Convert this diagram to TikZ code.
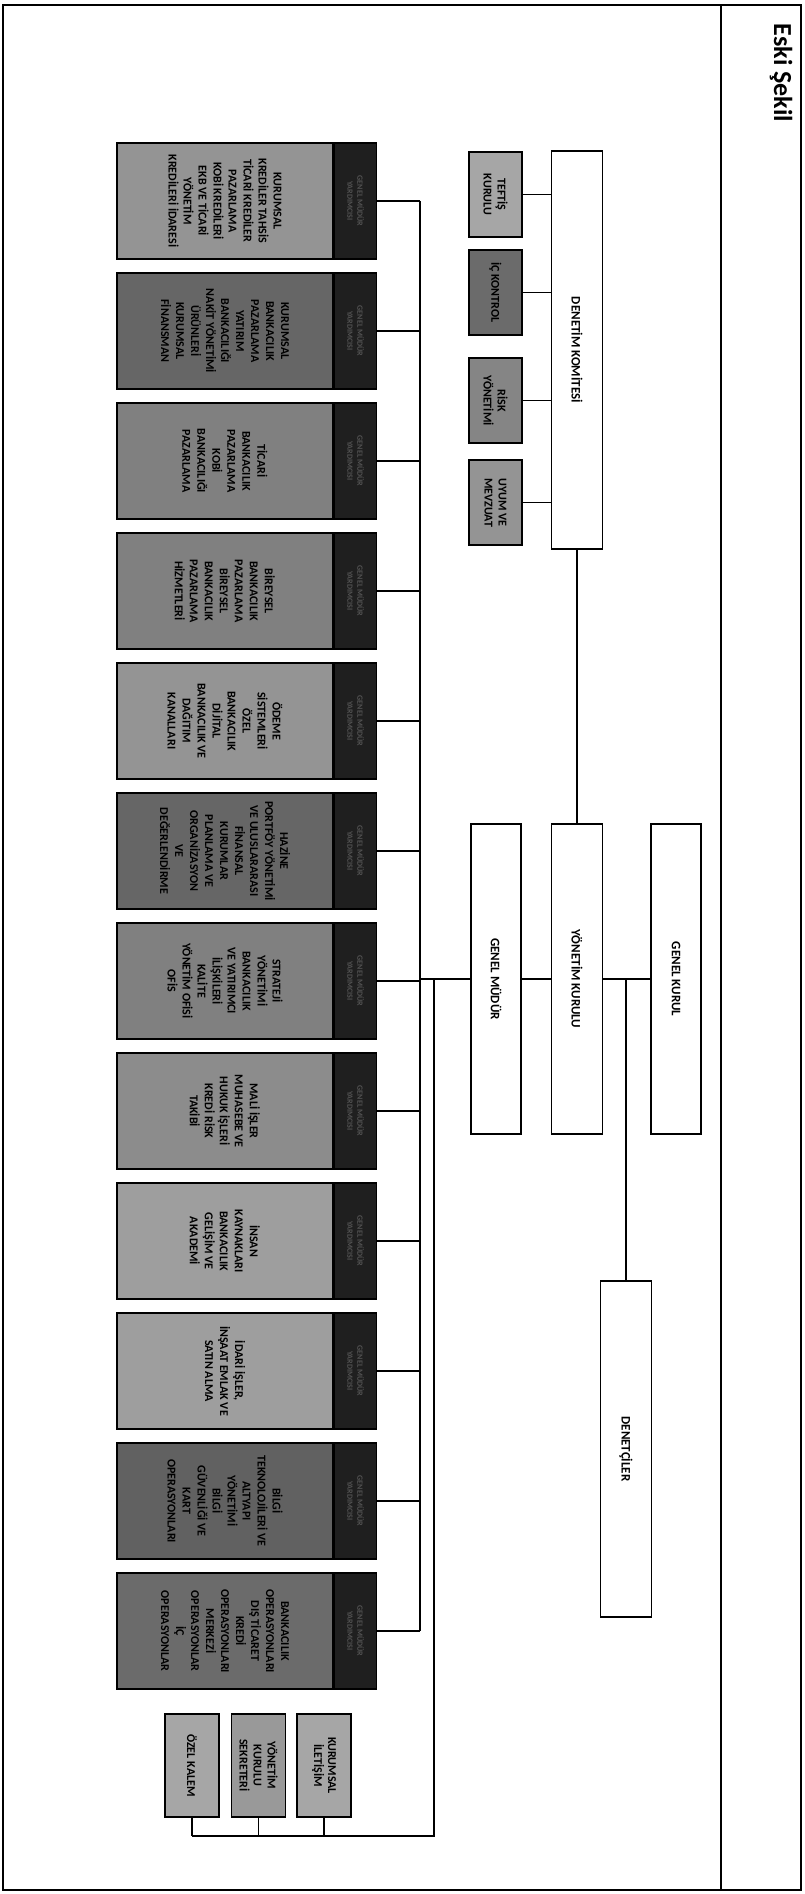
\documentclass[tikz,border=0pt]{standalone}
\usepackage{fontspec}
\setmainfont{Carlito}
\usetikzlibrary{positioning, calc}

\begin{document}
\begin{tikzpicture}[
    x=1pt, y=1pt,
    rotate=-90, transform shape,
    topbox/.style={rectangle, draw=black, fill=white, line width=1.6pt,
                   inner sep=2pt, align=center,
                   font=\fontsize{13}{15}\selectfont\bfseries},
    unitbox/.style={rectangle, draw=black, line width=1.6pt,
                    minimum width=116pt, minimum height=216pt, inner sep=2pt,
                    align=center, font=\fontsize{12}{15}\selectfont\bfseries},
    headbox/.style={rectangle, draw=black, fill=black!88, line width=1.6pt,
                    minimum width=116pt, minimum height=42pt, inner sep=1pt,
                    align=center, text=black!68,
                    font=\fontsize{8}{10}\selectfont\bfseries},
    staffbox/.style={rectangle, draw=black, line width=1.6pt,
                     minimum width=85pt, minimum height=53pt, inner sep=2pt,
                     align=center, font=\fontsize{12}{14}\selectfont\bfseries},
    link/.style={line width=1.4pt},
  ]
    \useasboundingbox (0,0) rectangle (1894,804);

    % Page frame and title band
    \draw[line width=1.5pt] (5,3) rectangle (1890,801);
    \draw[line width=1.5pt] (5,721) -- (1890,721);
    \node[anchor=west, font=\fontsize{26}{28}\selectfont\bfseries] (title)
      at (20,781) {Eski Şekil};

    % Board level
    \node[topbox, minimum width=398pt, minimum height=51pt] (DK) at (350,577) {DENETİM KOMİTESİ};
    \node[topbox, minimum width=310pt, minimum height=51pt] (YK) at (979,577) {YÖNETİM KURULU};
    \node[topbox, minimum width=310pt, minimum height=50pt] (GM) at (979,496) {GENEL MÜDÜR};
    \node[topbox, minimum width=310pt, minimum height=50pt] (GK) at (979,676) {GENEL KURUL};
    \node[topbox, minimum width=336pt, minimum height=51pt] (DN) at (1449,626) {DENETÇİLER};

    % Committee units
    \node[staffbox, fill=black!35] (C1) at (194.5,495.5) {TEFTİŞ\\KURULU};
    \node[staffbox, fill=black!58] (C2) at (292.5,495.5) {İÇ KONTROL};
    \node[staffbox, fill=black!48] (C3) at (400.5,495.5) {RİSK\\YÖNETİMİ};
    \node[staffbox, fill=black!42] (C4) at (502.5,495.5) {UYUM VE\\MEVZUAT};

    \foreach \i/\cx in {1/194.5, 2/292.5, 3/400.5, 4/502.5} {
      \draw[link] (C\i.north) -- (\cx,551.5);
    }

    \draw[link] (DK.east) -- (YK.west);
    \draw[link] (GM.north) -- (YK.south);
    \draw[link] (YK.north) -- (GK.south);
    \coordinate (split) at (979,626);
    \draw[link] (split) -- (DN.west);

    % Departments under the general manager
    \foreach \txt/\shade [count=\i] in {
        {KURUMSAL\\KREDİLER TAHSİS\\TİCARİ KREDİLER\\PAZARLAMA\\KOBİ KREDİLERİ\\EKB VE TİCARİ\\YÖNETİM\\KREDİLERİ İDARESİ}/42,
        {KURUMSAL\\BANKACILIK\\PAZARLAMA\\YATIRIM\\BANKACILIĞI\\NAKİT YÖNETİMİ\\ÜRÜNLERİ\\KURUMSAL\\FİNANSMAN}/60,
        {TİCARİ\\BANKACILIK\\PAZARLAMA\\KOBİ\\BANKACILIĞI\\PAZARLAMA}/50,
        {BİREYSEL\\BANKACILIK\\PAZARLAMA\\BİREYSEL\\BANKACILIK\\PAZARLAMA\\HİZMETLERİ}/50,
        {ÖDEME\\SİSTEMLERİ\\ÖZEL\\BANKACILIK\\DİJİTAL\\BANKACILIK VE\\DAĞITIM\\KANALLARI}/42,
        {HAZİNE\\PORTFÖY YÖNETİMİ\\VE ULUSLARARASI\\FİNANSAL\\KURUMLAR\\PLANLAMA VE\\ORGANİZASYON\\VE\\DEĞERLENDİRME}/60,
        {STRATEJİ\\YÖNETİMİ\\BANKACILIK\\VE YATIRIMCI\\İLİŞKİLERİ\\KALİTE\\YÖNETİM OFİSİ\\OFİS}/50,
        {MALİ İŞLER\\MUHASEBE VE\\HUKUK İŞLERİ\\KREDİ RİSK\\TAKİBİ}/45,
        {İNSAN\\KAYNAKLARI\\BANKACILIK\\GELİŞİM VE\\AKADEMİ}/38,
        {İDARİ İŞLER,\\İNŞAAT EMLAK VE\\SATIN ALMA}/38,
        {BİLGİ\\TEKNOLOJİLERİ VE\\ALTYAPI\\YÖNETİMİ\\BİLGİ\\GÜVENLİĞİ VE\\KART\\OPERASYONLARI}/62,
        {BANKACILIK\\OPERASYONLARI\\DIŞ TİCARET\\KREDİ\\OPERASYONLARI\\MERKEZİ\\OPERASYONLAR\\İÇ\\OPERASYONLAR}/58} {
      \node[unitbox, fill=black!\shade] (dep\i) at ({201+(\i-1)*130},225) {\txt};
      \node[headbox, above=0pt of dep\i] (hd\i) {GENEL MÜDÜR\\YARDIMCISI};
      \coordinate (tap\i) at ({201+(\i-1)*130},420);
      \draw[link] (hd\i.north) -- (tap\i);
    }
    \coordinate (gmtap) at (979,420);
    \draw[link] (tap1) -- (tap12);
    \draw[link] (GM.south) -- (gmtap);

    % Staff units
    \node[staffbox, fill=black!35, minimum width=103pt, minimum height=54pt] (S1) at (1765.5,192) {ÖZEL KALEM};
    \node[staffbox, fill=black!40, minimum width=103pt, minimum height=54pt] (S2) at (1765.5,258.5) {YÖNETİM\\KURULU\\SEKRETERİ};
    \node[staffbox, fill=black!35, minimum width=103pt, minimum height=54pt] (S3) at (1765.5,324) {KURUMSAL\\İLETİŞİM};

    \coordinate (gmtap2) at (979,434);
    \coordinate (corner) at (1836,434);
    \foreach \i/\sy in {1/192, 2/258.5, 3/324} {
      \coordinate (foot\i) at (1836,\sy);
      \draw[link] (S\i.east) -- (foot\i);
    }
    \draw[link] (gmtap2) -- (corner) -- (foot1);
\end{tikzpicture}
\end{document}
